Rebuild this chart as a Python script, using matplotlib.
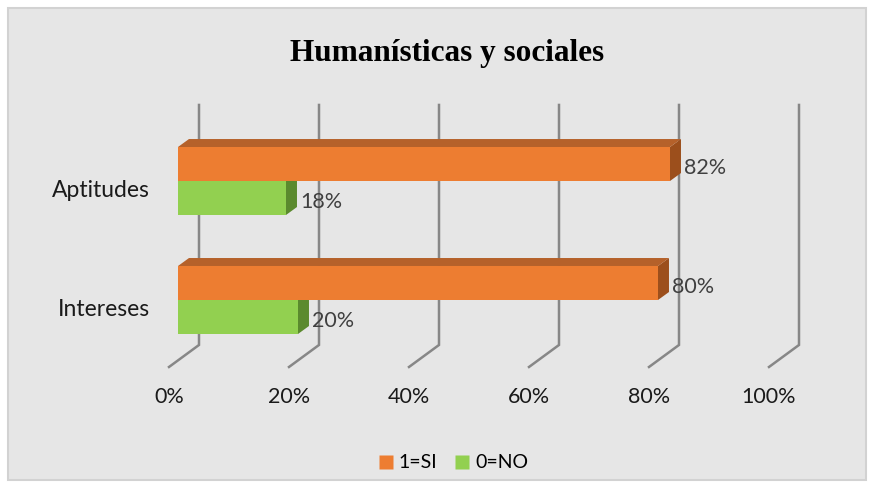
import matplotlib.pyplot as plt
from matplotlib.patches import Polygon, Rectangle
from matplotlib.lines import Line2D

categories = ['Intereses', 'Aptitudes']
si_values = [80, 82]
no_values = [20, 18]
ticks = [0, 20, 40, 60, 80, 100]
tick_labels = ['0%', '20%', '40%', '60%', '80%', '100%']

plt.rcParams['font.family'] = ['Lato', 'DejaVu Sans']

fig = plt.figure(figsize=(8.72, 4.88), dpi=100)
fig.patch.set_facecolor('white')
bg = Rectangle((8 / 872, 8 / 488), 858 / 872, 472 / 488,
               transform=fig.transFigure, facecolor='#E6E6E6',
               edgecolor='#D2D2D2', linewidth=1.5, zorder=-5)
fig.patches.append(bg)

ax = fig.add_axes([0, 0, 1, 1], zorder=2)
ax.set_xlim(-29.667, 115.667)
ax.set_ylim(-1.580, 2.521)
ax.axis('off')
ax.patch.set_alpha(0)

# 3d offsets (data units)
back_dx, floor_dx = 3.5, -1.5
wall_top, wall_bot, floor_front = 1.639, -0.378, -0.563
h = 0.2857
ddx, ddy = 1.83, 0.067

grid_col = '#878787'
for t in ticks:
    ax.plot([t + back_dx, t + back_dx, t + floor_dx],
            [wall_top, wall_bot, floor_front], color=grid_col, lw=1.8,
            solid_joinstyle='miter', zorder=1)
for t, lab in zip(ticks, tick_labels):
    ax.text(t + floor_dx, -0.815, lab, ha='center', va='center',
            fontsize=15.5, color='#1a1a1a')

ypos = list(range(len(categories)))

def draw_bar(v, y0, front, top, side, show_top):
    ax.barh(y0, v, height=h, left=0, align='edge', color=front, zorder=3)
    ax.add_patch(Polygon([(v, y0), (v + ddx, y0 + ddy), (v + ddx, y0 + h + ddy), (v, y0 + h)],
                         closed=True, facecolor=side, edgecolor='none', zorder=3))
    if show_top:
        ax.add_patch(Polygon([(0, y0 + h), (ddx, y0 + h + ddy), (v + ddx, y0 + h + ddy), (v, y0 + h)],
                             closed=True, facecolor=top, edgecolor='none', zorder=3))

for y, s, n in zip(ypos, si_values, no_values):
    draw_bar(n, y - h, '#92D050', '#6E9E3C', '#5B8A2E', False)
    draw_bar(s, y, '#ED7D31', '#B5612A', '#9C4F1C', True)
    ax.text(s + ddx + 0.5, y + h / 2 - 0.03, f'{s}%', ha='left', va='center',
            fontsize=15.5, color='#404040', zorder=4)
    ax.text(n + ddx + 0.5, y - h / 2 - 0.03, f'{n}%', ha='left', va='center',
            fontsize=15.5, color='#404040', zorder=4)
    ax.text(-4.67, y - 0.08, categories[y], ha='right', va='center',
            fontsize=16.5, color='#1a1a1a')

fig.text(447 / 872, 1 - 53 / 488, 'Humanísticas y sociales', ha='center', va='center',
         fontsize=22.5, fontweight='bold', family='Liberation Serif', color='black')

handles = [Line2D([], [], marker='s', linestyle='none', markersize=10.5,
                  markerfacecolor='#ED7D31', markeredgecolor='none'),
           Line2D([], [], marker='s', linestyle='none', markersize=10.5,
                  markerfacecolor='#92D050', markeredgecolor='none')]
fig.legend(handles, ['1=SI', '0=NO'], loc='center', bbox_to_anchor=(453 / 872, 1 - 463 / 488),
           ncol=2, frameon=False, fontsize=14, handlelength=0.8, handletextpad=0.25,
           columnspacing=0.9)

fig.savefig('out.png', dpi=100)
